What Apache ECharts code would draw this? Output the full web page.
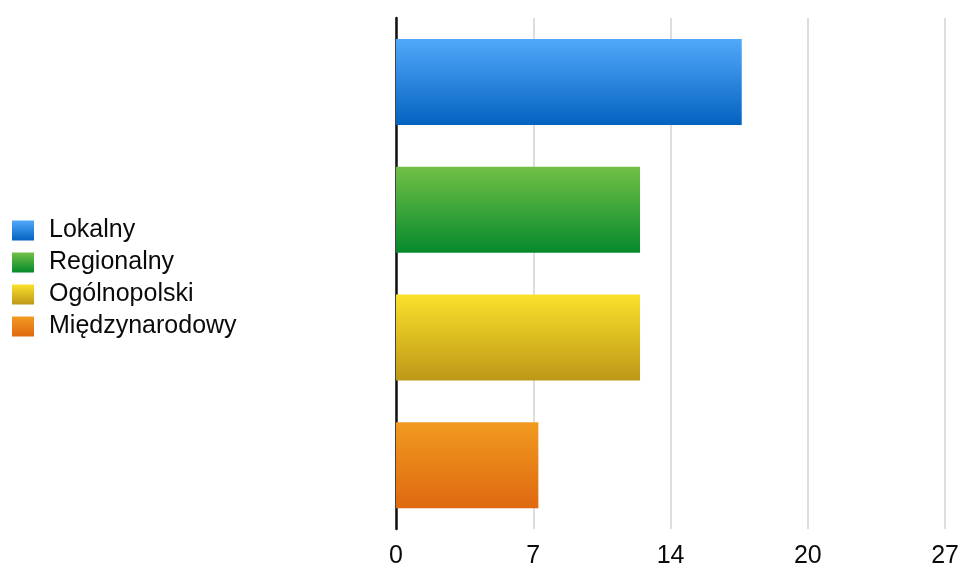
<!DOCTYPE html>
<html>
<head>
<meta charset="utf-8">
<script src="https://cdn.jsdelivr.net/npm/echarts@6/dist/echarts.min.js"></script>
<style>
  html, body { margin: 0; padding: 0; background: #ffffff; }
  #chart { width: 962px; height: 569px; }
</style>
</head>
<body>
<div id="chart"></div>
<script>
// Categories (top to bottom) and their values
const categories = ['Lokalny', 'Regionalny', 'Ogólnopolski', 'Międzynarodowy'];
const values = [17, 12, 12, 7];

// Axis scale and its tick labels
const axisMax = 27;
const tickStep = 6.75;
const tickLabels = ['0', '7', '14', '20', '27'];

// Gradient stops per category: [top, bottom]
const gradients = [
  ['#51A9FA', '#0462C0'],
  ['#72C046', '#05892C'],
  ['#FAE12A', '#BD9818'],
  ['#F19A20', '#DF6910']
];

const chart = echarts.init(document.getElementById('chart'), null, { renderer: 'canvas' });

const series = categories.map((name, i) => ({
  name: name,
  type: 'bar',
  stack: 'all',
  barWidth: 86,
  itemStyle: {
    color: new echarts.graphic.LinearGradient(0, 0, 0, 1, [
      { offset: 0, color: gradients[i][0] },
      { offset: 1, color: gradients[i][1] }
    ])
  },
  emphasis: { disabled: true },
  data: categories.map((c, j) => (j === i ? values[i] : '-'))
}));

chart.setOption({
  animation: false,
  backgroundColor: '#ffffff',
  textStyle: { fontFamily: 'Liberation Sans, Arial, Helvetica, sans-serif' },
  legend: {
    orient: 'vertical',
    left: 7,
    top: 213,
    itemWidth: 22,
    itemHeight: 20,
    itemGap: 7,
    icon: 'rect',
    data: categories,
    textStyle: {
      fontSize: 25,
      color: '#0a0a0a',
      lineHeight: 20,
      height: 20,
      padding: [0, 0, 0, 10]
    }
  },
  grid: {
    left: 396,
    right: 16,
    top: 18,
    bottom: 39,
    containLabel: false
  },
  xAxis: {
    type: 'value',
    min: 0,
    max: axisMax,
    interval: tickStep,
    axisLine: { show: false },
    axisTick: { show: false },
    axisLabel: {
      fontSize: 25,
      color: '#0a0a0a',
      margin: 15,
      formatter: (v) => tickLabels[Math.round(v / tickStep)]
    },
    splitLine: { show: true, lineStyle: { color: '#D2D2D2', width: 1.5 } }
  },
  yAxis: {
    type: 'category',
    data: categories,
    inverse: true,
    axisLine: { show: true, lineStyle: { color: '#111111', width: 2.5 } },
    axisTick: { show: false },
    axisLabel: { show: false },
    splitLine: { show: false }
  },
  series: series
});
</script>
</body>
</html>
